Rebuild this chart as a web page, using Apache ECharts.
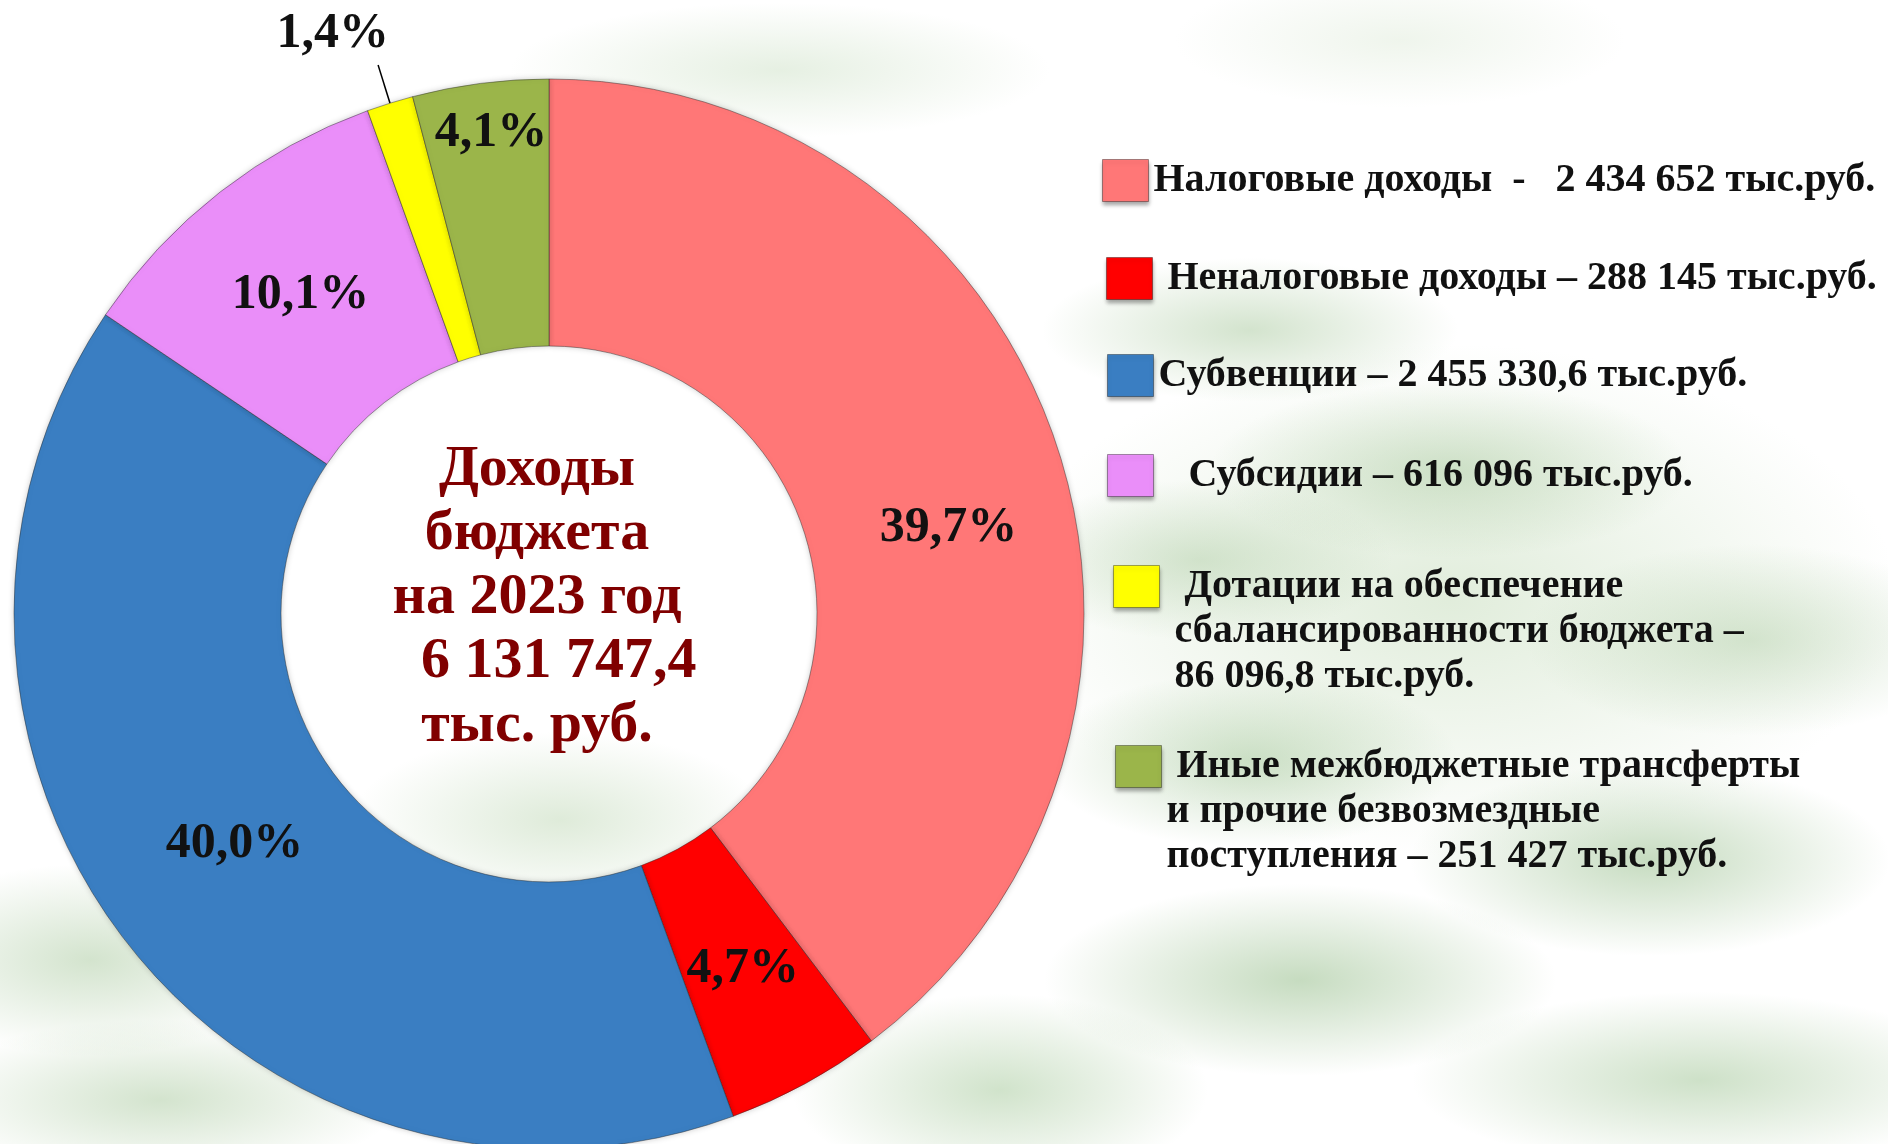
<!DOCTYPE html>
<html>
<head>
<meta charset="utf-8">
<script src="https://cdn.jsdelivr.net/npm/echarts@6/dist/echarts.min.js"></script>
<style>
  html, body { margin: 0; padding: 0; width: 1888px; height: 1144px; overflow: hidden; }
  body {
    background:
      radial-gradient(ellipse 260px 90px at 1250px 330px, rgba(175,205,165,0.55), rgba(255,255,255,0) 80%),
      radial-gradient(ellipse 300px 110px at 1450px 470px, rgba(175,205,165,0.55), rgba(255,255,255,0) 80%),
      radial-gradient(ellipse 240px 100px at 1200px 560px, rgba(175,205,165,0.5), rgba(255,255,255,0) 80%),
      radial-gradient(ellipse 280px 120px at 1750px 640px, rgba(175,205,165,0.5), rgba(255,255,255,0) 80%),
      radial-gradient(ellipse 260px 110px at 1250px 760px, rgba(165,200,155,0.55), rgba(255,255,255,0) 80%),
      radial-gradient(ellipse 300px 120px at 1650px 860px, rgba(160,196,150,0.6), rgba(255,255,255,0) 80%),
      radial-gradient(ellipse 320px 120px at 1300px 980px, rgba(160,196,150,0.6), rgba(255,255,255,0) 80%),
      radial-gradient(ellipse 360px 110px at 1700px 1080px, rgba(165,200,155,0.55), rgba(255,255,255,0) 80%),
      radial-gradient(ellipse 260px 120px at 1000px 1090px, rgba(170,204,160,0.55), rgba(255,255,255,0) 80%),
      radial-gradient(ellipse 560px 320px at 1450px 600px, rgba(200,222,190,0.55), rgba(255,255,255,0) 80%),
      radial-gradient(ellipse 260px 120px at 90px 960px, rgba(175,205,165,0.55), rgba(255,255,255,0) 80%),
      radial-gradient(ellipse 300px 100px at 160px 1100px, rgba(175,205,165,0.55), rgba(255,255,255,0) 80%),
      radial-gradient(ellipse 260px 110px at 560px 820px, rgba(190,215,180,0.5), rgba(255,255,255,0) 80%),
      radial-gradient(ellipse 360px 90px at 780px 70px, rgba(205,225,198,0.5), rgba(255,255,255,0) 75%),
      radial-gradient(ellipse 300px 90px at 1400px 40px, rgba(215,230,208,0.4), rgba(255,255,255,0) 75%),
      #ffffff;
  }
  #chart { position: absolute; left: 0; top: 0; width: 1888px; height: 1144px; }
</style>
</head>
<body>
<div id="chart"></div>
<script>
// данные диаграммы
var categories = ['Налоговые доходы', 'Неналоговые доходы', 'Субвенции', 'Субсидии',
  'Дотации на обеспечение сбалансированности бюджета',
  'Иные межбюджетные трансферты и прочие безвозмездные поступления'];
var values = [2434652, 288145, 2455330.6, 616096, 86096.8, 251427];
var percentLabels = ['39,7%', '4,7%', '40,0%', '10,1%', '1,4%', '4,1%'];
var legendLabels = [
  'Налоговые доходы  -   2 434 652 тыс.руб.',
  ' Неналоговые доходы – 288 145 тыс.руб.',
  'Субвенции – 2 455 330,6 тыс.руб.',
  '   Субсидии – 616 096 тыс.руб.',
  '  Дотации на обеспечение\n сбалансированности бюджета –\n 86 096,8 тыс.руб.',
  ' Иные межбюджетные трансферты\nи прочие безвозмездные\nпоступления – 251 427 тыс.руб.'
];
var centerLines = ['Доходы', 'бюджета', 'на 2023 год', '   6 131 747,4', 'тыс. руб.'];
var colors = ['#ff7777', '#ff0000', '#3a7ec2', '#ea8ef9', '#ffff00', '#9bb54a'];

var legendLeft = [1102, 1106, 1107, 1107, 1113, 1115];
var legendTop = [159, 257, 354, 454, 474, 654];

var chart = echarts.init(document.getElementById('chart'));

var font = "'Liberation Serif', 'DejaVu Serif', serif";
var LH = 45;

var pieData = categories.map(function (name, i) {
  var item = {
    name: name,
    value: values[i],
    itemStyle: { color: colors[i] }
  };
  if (i === 4) {
    item.label = { position: 'outside' };
    item.labelLine = { show: true, length: 40, length2: 0, lineStyle: { color: '#000', width: 1.5 } };
  }
  if (i === 5) item.label = { offset: [-6, -80] };
  if (i === 0) item.label = { offset: [16, 43] };
  if (i === 2) item.label = { offset: [4, -19] };
  return item;
});

// многострочные подписи: пустая строка сверху, чтобы значок стоял у первой строки
function legendFormatter(text) {
  var lines = text.split('\n');
  if (lines.length === 1) return '{t|' + text + '}';
  return '{p| }\n' + lines.map(function (l) { return '{t|' + l + '}'; }).join('\n');
}

var legends = categories.map(function (name, i) {
  var lines = legendLabels[i].split('\n').length;
  return {
    data: [name],
    left: legendLeft[i],
    top: legendTop[i],
    orient: 'vertical',
    padding: 0,
    icon: 'rect',
    itemWidth: 46,
    itemHeight: 42,
    selectedMode: false,
    formatter: legendFormatter(legendLabels[i]),
    itemStyle: { borderColor: 'rgba(0,0,0,0.35)', borderWidth: 1, shadowColor: 'rgba(0,0,0,0.35)', shadowBlur: 4, shadowOffsetY: 3 },
    textStyle: {
      rich: {
        p: { height: (lines - 1) * LH, lineHeight: (lines - 1) * LH, fontSize: 10 },
        t: {
          fontFamily: font,
          fontWeight: 'bold',
          fontSize: 40,
          lineHeight: LH,
          color: '#111'
        }
      }
    }
  };
});

chart.setOption({
  animation: false,
  legend: legends,
  graphic: [{
    type: 'text',
    x: 537,
    y: 438,
    style: {
      text: centerLines.join('\n'),
      align: 'center',
      verticalAlign: 'top',
      fontFamily: font,
      fontWeight: 'bold',
      fontSize: 58,
      lineHeight: 64,
      fill: '#800000'
    }
  }],
  series: [{
    type: 'pie',
    center: [549, 614],
    radius: [268, 535],
    startAngle: 90,
    clockwise: true,
    avoidLabelOverlap: false,
    itemStyle: {
      borderColor: 'rgba(40,40,40,0.45)',
      borderWidth: 1,
      shadowColor: 'rgba(0,0,0,0.2)',
      shadowBlur: 6
    },
    label: {
      show: true,
      position: 'inside',
      formatter: function (p) { return percentLabels[p.dataIndex]; },
      fontFamily: font,
      fontWeight: 'bold',
      fontSize: 50,
      color: '#111'
    },
    labelLine: { show: false },
    labelLayout: function (p) {
      if (p.dataIndex === 4) return { dx: 16, dy: -31 };
      return {};
    },
    emphasis: { disabled: true },
    data: pieData
  }]
});
</script>
</body>
</html>
